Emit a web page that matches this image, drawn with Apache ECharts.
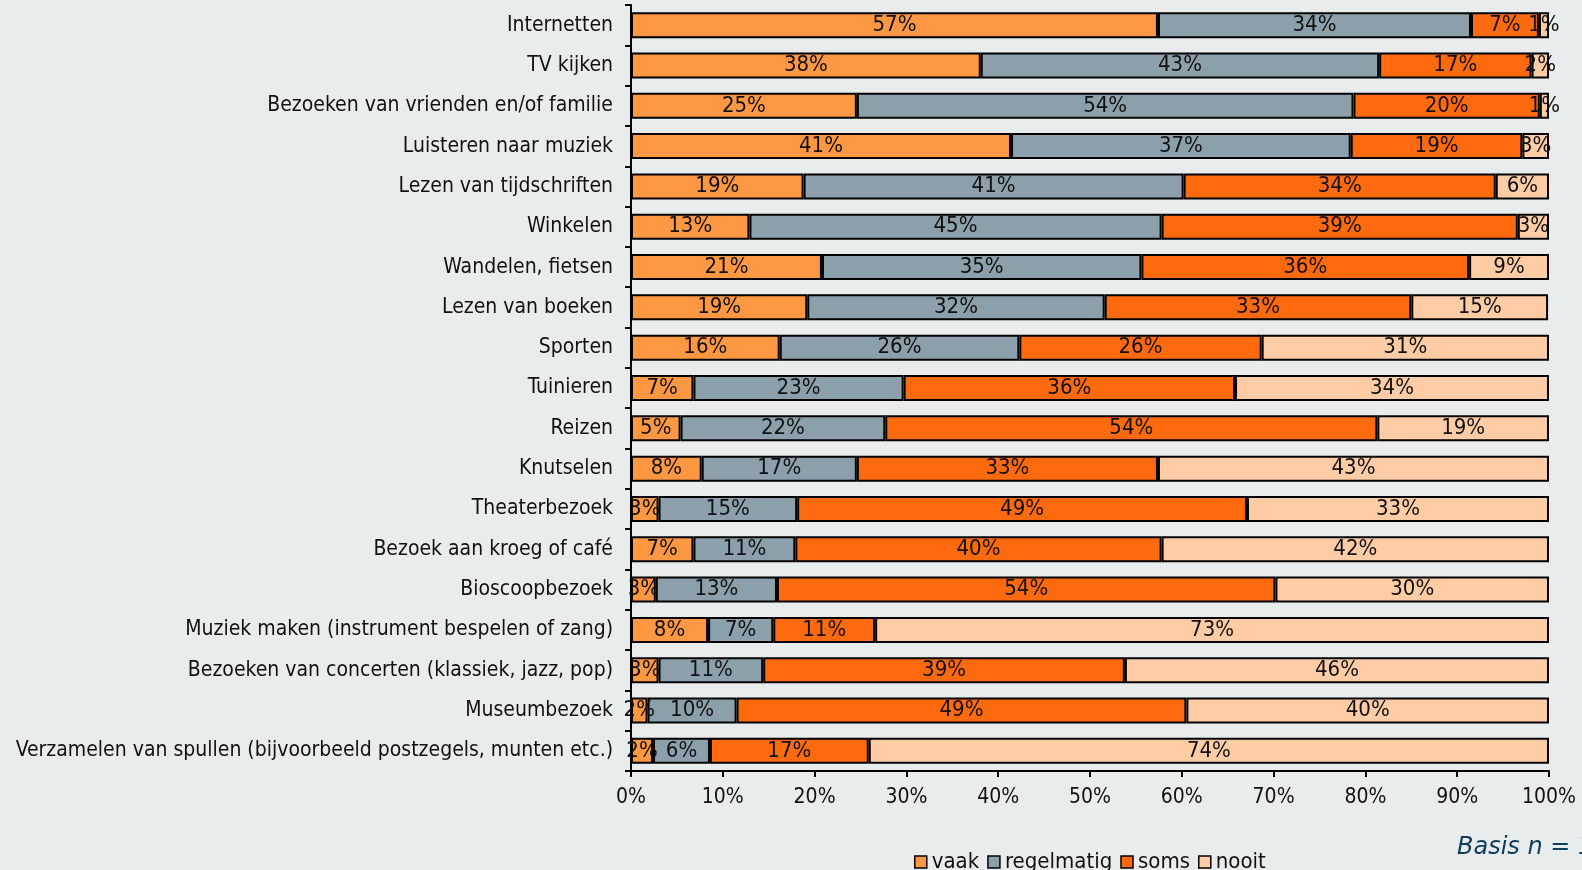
<!DOCTYPE html>
<html>
<head>
<meta charset="utf-8">
<script src="https://cdn.jsdelivr.net/npm/echarts@6/dist/echarts.min.js"></script>
<style>
  html, body { margin: 0; padding: 0; background: #E9ECED; }
  #chart { width: 1582px; height: 870px; }
</style>
</head>
<body>
<div id="chart"></div>
<script>
// Activiteiten (van boven naar beneden)
const categories = [
  'Internetten',
  'TV kijken',
  'Bezoeken van vrienden en/of familie',
  'Luisteren naar muziek',
  'Lezen van tijdschriften',
  'Winkelen',
  'Wandelen, fietsen',
  'Lezen van boeken',
  'Sporten',
  'Tuinieren',
  'Reizen',
  'Knutselen',
  'Theaterbezoek',
  'Bezoek aan kroeg of café',
  'Bioscoopbezoek',
  'Muziek maken (instrument bespelen of zang)',
  'Bezoeken van concerten (klassiek, jazz, pop)',
  'Museumbezoek',
  'Verzamelen van spullen (bijvoorbeeld postzegels, munten etc.)'
];

// Percentages per antwoordcategorie (label toont het afgeronde getal)
const vaak       = [57.4, 38.1, 24.6, 41.4, 18.8, 12.9, 20.8, 19.2, 16.2, 6.8, 5.4, 7.7, 3.0, 6.8, 2.7, 8.4, 3.0, 1.8, 2.4];
const regelmatig = [34.1, 43.4, 54.1, 37.0, 41.4, 44.9, 34.8, 32.4, 26.1, 22.9, 22.3, 16.9, 15.1, 11.1, 13.2, 7.1, 11.4, 9.7, 6.2];
const soms       = [7.4, 16.6, 20.3, 18.7, 34.0, 38.8, 35.7, 33.4, 26.4, 36.1, 53.6, 32.8, 49.0, 39.9, 54.3, 11.1, 39.4, 49.0, 17.3];
const nooit      = [1.1, 1.9, 1.0, 2.9, 5.8, 3.4, 8.7, 14.9, 31.3, 34.2, 18.7, 42.6, 32.9, 42.2, 29.8, 73.4, 46.2, 39.5, 74.1];

const seriesNames = ['vaak', 'regelmatig', 'soms', 'nooit'];
const seriesData = [vaak, regelmatig, soms, nooit];
const colors = ['#FF9743', '#8BA0AA', '#FF6A0F', '#FFCCA6'];

const FONT = '"DejaVu Sans Condensed", "DejaVu Sans", sans-serif';
const FS = 21;

const chart = echarts.init(document.getElementById('chart'), null, { renderer: 'canvas' });

chart.setOption({
  backgroundColor: '#E9ECED',
  animation: false,
  textStyle: { fontFamily: FONT },
  grid: { left: 631, right: 33, top: 5, bottom: 99, containLabel: false, outerBoundsMode: 'none' },
  legend: {
    data: seriesNames,
    left: 909,
    top: 846,
    itemWidth: 12,
    itemHeight: 12,
    itemGap: 8,
    icon: 'rect',
    textStyle: { color: '#111', fontSize: 22, fontFamily: FONT },
    itemStyle: { borderColor: '#000', borderWidth: 1.5 }
  },
  xAxis: {
    type: 'value',
    min: 0,
    max: 100,
    interval: 10,
    axisLine: { show: true, lineStyle: { color: '#000', width: 2 } },
    axisTick: { show: true, length: 6, lineStyle: { color: '#000', width: 2 } },
    splitLine: { show: false },
    axisLabel: { formatter: '{value}%', color: '#111', fontSize: FS, fontFamily: FONT, margin: 16 }
  },
  yAxis: {
    type: 'category',
    data: categories,
    inverse: true,
    axisLine: { show: true, lineStyle: { color: '#000', width: 2 } },
    axisTick: { show: true, length: 6, lineStyle: { color: '#000', width: 2 } },
    axisLabel: { color: '#111', fontSize: FS, fontFamily: FONT, margin: 18 }
  },
  graphic: [{
    type: 'text',
    left: 1457,
    top: 836,
    style: {
      text: 'Basis n = 1',
      fill: '#0E3D5C',
      font: 'italic 24px "DejaVu Sans"'
    }
  }],
  series: seriesData.map((d, i) => ({
    name: seriesNames[i],
    type: 'bar',
    stack: 'totaal',
    data: d,
    barWidth: 26,
    itemStyle: { color: colors[i], borderColor: '#000', borderWidth: 2 },
    label: {
      show: true,
      position: 'inside',
      color: '#111',
      fontSize: 22,
      fontFamily: FONT,
      formatter: p => Math.round(p.value) + '%'
    }
  }))
});
</script>
</body>
</html>
